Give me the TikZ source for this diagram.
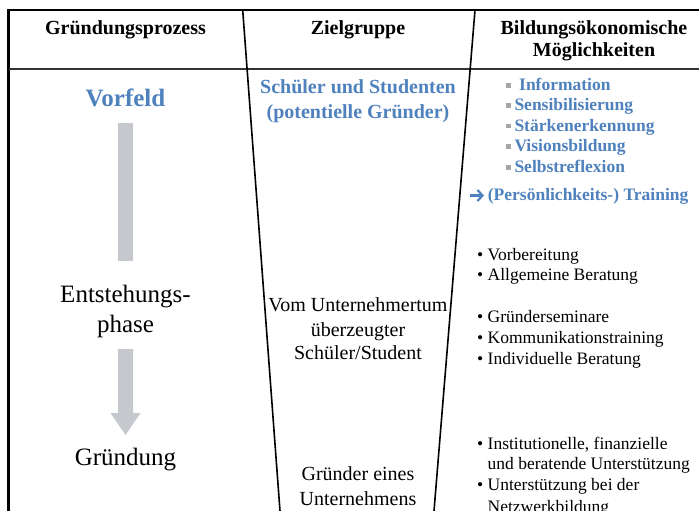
\documentclass[tikz,border=0pt]{standalone}
\usepackage{fontspec}
\setmainfont{Liberation Serif}
\usetikzlibrary{arrows.meta}
\definecolor{acblue}{HTML}{4F81BD}
\definecolor{bargray}{HTML}{C5C9CD}
\definecolor{sqgray}{HTML}{A6A6A6}
\definecolor{rulegray}{HTML}{333333}
\tikzset{
  txt/.style={inner sep=0pt, anchor=base},
  txtl/.style={inner sep=0pt, anchor=base west},
  headfont/.style={font=\fontsize{20}{24}\selectfont\bfseries},
  phasefont/.style={font=\fontsize{25}{30}\selectfont},
  phaseblue/.style={font=\fontsize{25}{30}\selectfont\bfseries, text=acblue},
  midfont/.style={font=\fontsize{20}{24}\selectfont},
  midblue/.style={font=\fontsize{20}{24}\selectfont\bfseries, text=acblue},
  rightfont/.style={font=\fontsize{17.5}{21}\selectfont},
  rightblue/.style={font=\fontsize{17.5}{21}\selectfont\bfseries, text=acblue},
  framerule/.style={line width=2.7pt, line join=miter},
  headrule/.style={line width=2pt, rulegray},
  funnel/.style={line width=1.6pt},
  sqbullet/.style={fill=sqgray, draw=none, minimum size=4.6pt, inner sep=0pt},
  graybar/.style={fill=bargray, draw=none}
}
\begin{document}
\begin{tikzpicture}[x=1pt,y=-1pt]
\useasboundingbox (0,0) rectangle (699,511);

% frame and header rule
\coordinate (ftl) at (8.7,10);
\coordinate (ftr) at (699,10);
\coordinate (fbl) at (8.7,511);
\coordinate (hl) at (8.7,69);
\coordinate (hr) at (699,69);
\draw[framerule] (fbl) -- (ftl) -- (ftr);
\draw[headrule] (hl) -- (hr);

% funnel sides of the middle column
\coordinate (fl1) at (242.7,10);
\coordinate (fl2) at (280,511);
\coordinate (fr1) at (475,10);
\coordinate (fr2) at (434,511);
\draw[funnel] (fl1) -- (fl2);
\draw[funnel] (fr1) -- (fr2);

% header
\node[txt, headfont] (hproc) at (125.5,34.3) {Gründungsprozess};
\node[txt, headfont] (hziel) at (358,34.3) {Zielgruppe};
\node[txt, headfont] (hbild) at (594,34.3) {Bildungsökonomische};
\node[txt, headfont] (hmoeg) at (594,56.7) {Möglichkeiten};

% left column: phases
\node[txt, phaseblue] (vorfeld) at (125.5,106.7) {Vorfeld};
\fill[graybar] (118,123) rectangle (132.5,261);
\node[txt, phasefont] (entst1) at (125.5,302.7) {Entstehungs-};
\node[txt, phasefont] (entst2) at (125.5,332.7) {phase};
\fill[graybar] (118,349) -- (133,349) -- (133,413) -- (140.5,413)
  -- (125.5,435) -- (110.5,413) -- (118,413) -- cycle;
\node[txt, phasefont] (gruendung) at (125.5,465) {Gründung};

% middle column: target group
\node[txt, midblue] (ziel1) at (358,93.3) {Schüler und Studenten};
\node[txt, midblue] (ziel2) at (358,118.3) {(potentielle Gründer)};
\node[txt, midfont] (ziel3) at (358,311.7) {Vom Unternehmertum};
\node[txt, midfont] (ziel4) at (358,336) {überzeugter};
\node[txt, midfont] (ziel5) at (358,359.3) {Schüler/Student};
\node[txt, midfont] (ziel6) at (358,480.7) {Gründer eines};
\node[txt, midfont] (ziel7) at (358,505) {Unternehmens};

% right column: blue items with square bullets
\node[sqbullet] (sq1) at (508.3,85.7) {};
\node[txtl, rightblue] (opt1) at (519,90.7) {Information};
\node[sqbullet] (sq2) at (508.3,105.5) {};
\node[txtl, rightblue] (opt2) at (514.3,110.5) {Sensibilisierung};
\node[sqbullet] (sq3) at (508.3,126) {};
\node[txtl, rightblue] (opt3) at (514.3,131) {Stärkenerkennung};
\node[sqbullet] (sq4) at (508.3,146.7) {};
\node[txtl, rightblue] (opt4) at (514.3,151.7) {Visionsbildung};
\node[sqbullet] (sq5) at (508.3,167.7) {};
\node[txtl, rightblue] (opt5) at (514.3,172.7) {Selbstreflexion};

% arrow leading to the training item
\coordinate (arrA) at (470,195.5);
\coordinate (arrB) at (484,195.5);
\draw[acblue, line width=2.2pt, -{Straight Barb[length=5pt,width=11pt,line width=2.2pt]}] (arrA) -- (arrB);
\node[txtl, rightblue] (training) at (487.7,200.5) {(Persönlichkeits-) Training};

% right column: black bullet items
\node[txtl, rightfont] (b1) at (477,260.7) {• Vorbereitung};
\node[txtl, rightfont] (b2) at (477,280.7) {• Allgemeine Beratung};
\node[txtl, rightfont] (b3) at (477,322) {• Gründerseminare};
\node[txtl, rightfont] (b4) at (477,343.3) {• Kommunikationstraining};
\node[txtl, rightfont] (b5) at (477,364) {• Individuelle Beratung};
\node[txtl, rightfont] (b6) at (477,449) {• Institutionelle, finanzielle};
\node[txtl, rightfont] (b6b) at (487.5,469.7) {und beratende Unterstützung};
\node[txtl, rightfont] (b7) at (477,490.7) {• Unterstützung bei der};
\node[txtl, rightfont] (b7b) at (487.5,512) {Netzwerkbildung};
\end{tikzpicture}
\end{document}
